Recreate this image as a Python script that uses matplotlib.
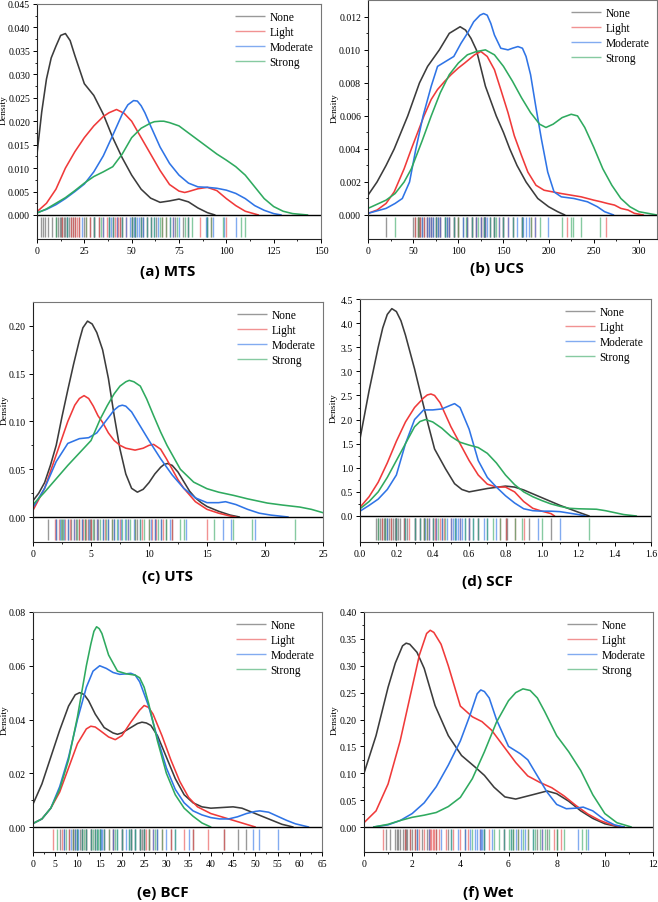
import numpy as np
import matplotlib
matplotlib.use("Agg")
import matplotlib.pyplot as plt
from matplotlib.ticker import AutoMinorLocator

classes = ["None", "Light", "Moderate", "Strong"]
line_colors = ["#3c3c3c", "#f03a3a", "#2f74e6", "#2faa5f"]
rug_colors = ["#555555", "#e84a4a", "#2f74e6", "#35a862"]

# ---------------- (a) MTS ----------------
mts_none_x = [0, 2.5, 5, 7.5, 10, 12.5, 15, 17.5, 20, 22.5, 25, 30, 35, 40, 45, 50, 55, 60, 65, 70, 75, 80, 85, 90, 94]
mts_none_y = [0.013, 0.022, 0.029, 0.0335, 0.036, 0.0383, 0.0387, 0.0372, 0.034, 0.031, 0.028, 0.0255, 0.0215, 0.0165, 0.0122, 0.0085, 0.0055, 0.0036, 0.0027, 0.0030, 0.0034, 0.0028, 0.0015, 0.0005, 0.0]
mts_light_x = [0, 5, 10, 15, 20, 25, 30, 35, 38, 42, 46, 50, 55, 60, 65, 70, 75, 78, 80, 85, 90, 95, 100, 105, 110, 117]
mts_light_y = [0.0007, 0.0025, 0.0055, 0.010, 0.0135, 0.0165, 0.019, 0.021, 0.0218, 0.0225, 0.0217, 0.020, 0.0165, 0.013, 0.0095, 0.0065, 0.0051, 0.0048, 0.005, 0.0056, 0.0059, 0.0052, 0.0035, 0.002, 0.0008, 0.0]
mts_mod_x = [0, 5, 10, 15, 20, 25, 30, 35, 40, 45, 48, 51, 53, 55, 57, 60, 65, 70, 75, 80, 85, 90, 95, 100, 105, 110, 115, 120, 125, 129]
mts_mod_y = [0.0005, 0.0012, 0.0022, 0.0035, 0.005, 0.0066, 0.0092, 0.0126, 0.017, 0.0215, 0.0235, 0.0244, 0.0243, 0.0233, 0.0218, 0.019, 0.0145, 0.011, 0.0085, 0.0068, 0.006, 0.0059, 0.0057, 0.0053, 0.0046, 0.0035, 0.002, 0.001, 0.0003, 0.0]
mts_str_x = [0, 5, 10, 15, 20, 25, 30, 35, 40, 45, 50, 55, 60, 62, 65, 67, 70, 75, 80, 85, 90, 95, 100, 105, 110, 115, 120, 125, 130, 135, 143]
mts_str_y = [0.0004, 0.0013, 0.0025, 0.0037, 0.0052, 0.0068, 0.0082, 0.0092, 0.0103, 0.013, 0.0165, 0.0185, 0.0196, 0.0199, 0.020, 0.020, 0.0197, 0.019, 0.0175, 0.016, 0.0145, 0.013, 0.0117, 0.0103, 0.0085, 0.006, 0.0035, 0.0018, 0.0008, 0.0003, 0.0]
mts_rug_none = [2, 3, 4, 6, 8, 10, 11, 12, 12.5, 13, 14, 15, 16, 17, 18, 19, 20, 22, 25, 28, 30, 33, 38, 44, 50, 56, 63, 73, 77, 90]
mts_rug_light = [13, 18, 19, 20, 21, 22, 26, 28, 30, 33, 35, 37, 40, 41, 42, 43, 44, 45, 47, 50, 52, 55, 58, 60, 66, 68, 72, 80, 86, 92, 100]
mts_rug_mod = [16, 24, 30, 35, 38, 39, 40, 42, 45, 47, 49, 50, 51, 52, 53, 54, 55, 56, 58, 60, 62, 64, 70, 72, 75, 80, 89, 90, 93, 99, 105]
mts_rug_str = [10, 16, 26, 30, 34, 38, 40, 45, 50, 52, 55, 58, 60, 62, 65, 66, 68, 70, 74, 78, 80, 82, 90, 92, 98, 108, 110]

# ---------------- (b) UCS ----------------
ucs_none_x = [0, 10, 20, 29, 44, 57, 66, 79, 90, 96, 102, 108, 114, 120, 130, 142, 150, 157, 165, 175, 188, 200, 210, 218]
ucs_none_y = [0.0012, 0.002, 0.003, 0.004, 0.006, 0.008, 0.009, 0.010, 0.011, 0.0112, 0.0114, 0.0112, 0.0107, 0.010, 0.0078, 0.006, 0.005, 0.004, 0.003, 0.002, 0.001, 0.0005, 0.0002, 0.0]
ucs_light_x = [0, 10, 20, 29, 40, 48, 55, 62, 70, 77, 85, 92, 100, 107, 118, 125, 132, 140, 147, 155, 162, 170, 177, 186, 195, 214, 236, 250, 258, 265, 273, 280, 288, 295, 305]
ucs_light_y = [0.0001, 0.0003, 0.0007, 0.0014, 0.0028, 0.004, 0.005, 0.006, 0.007, 0.0076, 0.0081, 0.0085, 0.0089, 0.0092, 0.0097, 0.0099, 0.0096, 0.0088, 0.0076, 0.0062, 0.0048, 0.0036, 0.0026, 0.0018, 0.0015, 0.0013, 0.0011, 0.0009, 0.0008, 0.0007, 0.0006, 0.0004, 0.0003, 0.0001, 0.0]
ucs_mod_x = [0, 20, 30, 38, 46, 53, 61, 70, 77, 86, 95, 103, 110, 117, 124, 128, 132, 136, 140, 147, 155, 160, 166, 171, 175, 180, 186, 192, 199, 206, 214, 228, 243, 254, 262, 272]
ucs_mod_y = [0.0001, 0.0004, 0.0007, 0.001, 0.002, 0.004, 0.006, 0.0078, 0.009, 0.0093, 0.0096, 0.0104, 0.011, 0.0117, 0.0121, 0.0122, 0.0121, 0.0116, 0.0109, 0.0101, 0.0100, 0.0101, 0.0102, 0.0101, 0.0096, 0.0085, 0.0065, 0.0046, 0.0026, 0.0014, 0.0011, 0.001, 0.0008, 0.0005, 0.0002, 0.0]
ucs_str_x = [0, 20, 30, 40, 48, 60, 70, 80, 90, 100, 110, 120, 130, 140, 150, 160, 170, 180, 190, 197, 205, 215, 225, 232, 240, 250, 260, 270, 280, 290, 300, 310, 320]
ucs_str_y = [0.0004, 0.0009, 0.0013, 0.002, 0.0028, 0.0045, 0.006, 0.0074, 0.0085, 0.0092, 0.0097, 0.0099, 0.0100, 0.0097, 0.009, 0.0081, 0.0071, 0.0062, 0.0055, 0.0053, 0.0055, 0.0059, 0.0061, 0.006, 0.0053, 0.0041, 0.0028, 0.0018, 0.001, 0.0005, 0.0002, 0.0001, 0.0]
ucs_rug_none = [20, 50, 52, 55, 57, 58, 60, 62, 65, 68, 70, 72, 75, 78, 80, 85, 88, 90, 95, 100, 105, 110, 115, 120, 125, 128, 130, 140, 150, 170]
ucs_rug_light = [52, 55, 58, 62, 65, 70, 75, 80, 90, 95, 100, 110, 115, 120, 125, 128, 130, 135, 140, 145, 150, 155, 160, 170, 180, 185, 220, 263]
ucs_rug_mod = [60, 65, 68, 70, 72, 75, 78, 80, 85, 88, 90, 95, 105, 110, 115, 120, 125, 128, 130, 132, 135, 140, 145, 150, 155, 160, 165, 170, 172, 175, 178, 185, 199]
ucs_rug_str = [30, 55, 75, 85, 95, 100, 108, 115, 122, 128, 135, 140, 142, 150, 160, 170, 180, 190, 215, 225, 227, 236, 257]

# ---------------- (c) UTS ----------------
uts_none_x = [0, 0.5, 1, 1.5, 2, 2.5, 3, 3.5, 4, 4.3, 4.7, 5.1, 5.5, 6, 6.5, 7, 7.5, 8, 8.5, 9, 9.5, 10, 10.5, 11, 11.3, 11.6, 12, 12.5, 13, 13.5, 14, 14.5, 15, 16, 17, 17.8]
uts_none_y = [0.017, 0.025, 0.036, 0.054, 0.075, 0.105, 0.133, 0.16, 0.185, 0.198, 0.205, 0.202, 0.193, 0.175, 0.145, 0.106, 0.071, 0.045, 0.030, 0.026, 0.029, 0.036, 0.045, 0.052, 0.055, 0.056, 0.054, 0.047, 0.037, 0.027, 0.020, 0.015, 0.011, 0.006, 0.002, 0.0]
uts_light_x = [0, 1, 2, 3, 3.6, 4.0, 4.4, 4.8, 5.2, 5.6, 6, 6.5, 7, 7.5, 8, 8.8, 9.5, 10, 10.4, 11, 11.5, 12, 12.5, 13, 14, 15, 16, 17, 17.5]
uts_light_y = [0.007, 0.03, 0.065, 0.10, 0.117, 0.124, 0.127, 0.124, 0.116, 0.106, 0.099, 0.088, 0.08, 0.075, 0.072, 0.070, 0.072, 0.075, 0.076, 0.071, 0.061, 0.05, 0.039, 0.03, 0.016, 0.008, 0.004, 0.001, 0.0]
uts_mod_x = [0, 1, 2, 3, 4, 4.8, 5.5, 6, 6.5, 7, 7.4, 7.7, 8.0, 8.5, 9, 10, 11, 12, 13, 14, 15, 16, 16.6, 17.5, 18.5, 19.5, 20.5, 22]
uts_mod_y = [0.01, 0.03, 0.058, 0.077, 0.082, 0.083, 0.088, 0.096, 0.104, 0.112, 0.116, 0.117, 0.116, 0.110, 0.100, 0.080, 0.061, 0.044, 0.030, 0.020, 0.015, 0.015, 0.016, 0.013, 0.008, 0.004, 0.002, 0.0]
uts_str_x = [0, 1, 2, 3, 4, 5, 5.8, 6.4, 7, 7.5, 8.0, 8.3, 8.7, 9.25, 9.8, 10.4, 11, 11.55, 12.7, 13.85, 15, 16, 17.3, 18.5, 20.2, 21.5, 23, 24, 25]
uts_str_y = [0.013, 0.026, 0.040, 0.054, 0.067, 0.08, 0.1026, 0.1165, 0.129, 0.137, 0.1415, 0.143, 0.1415, 0.137, 0.1235, 0.106, 0.089, 0.075, 0.05, 0.0365, 0.0296, 0.026, 0.0226, 0.019, 0.0146, 0.0125, 0.0104, 0.008, 0.0045]
uts_rug_none = [1.3, 2, 2.5, 3, 3.3, 3.7, 4, 4.2, 4.5, 4.7, 4.9, 5, 5.3, 5.6, 6, 6.5, 7, 9, 10.5, 11, 11.5, 12]
uts_rug_light = [1.9, 2.2, 2.8, 3.2, 3.5, 4, 4.3, 4.6, 5, 5.5, 6.2, 6.8, 7.5, 8.2, 8.8, 9.4, 10, 10.3, 10.6, 11.2, 12, 15]
uts_rug_mod = [2, 2.3, 2.7, 3, 3.5, 4.2, 4.8, 5.5, 6, 6.5, 7, 7.3, 7.6, 7.9, 8.2, 8.7, 9.2, 10.2, 10.5, 11, 11.8, 13.2, 16.4, 17.1, 19.1]
uts_rug_str = [2.4, 2.6, 3.8, 4.5, 5.2, 5.8, 6.3, 6.8, 7.2, 7.7, 8, 8.4, 8.8, 9.2, 9.6, 10, 10.8, 11.5, 12.7, 13, 15.6, 17.2, 18.9, 22.6]

# ---------------- (d) SCF ----------------
scf_none_x = [0, 0.05, 0.1, 0.125, 0.15, 0.175, 0.2, 0.225, 0.25, 0.3, 0.34, 0.376, 0.41, 0.47, 0.52, 0.56, 0.6, 0.7, 0.8, 0.85, 0.9, 1.0, 1.1, 1.2, 1.26]
scf_none_y = [1.6, 2.6, 3.5, 3.9, 4.18, 4.3, 4.24, 4.05, 3.75, 3.05, 2.43, 1.88, 1.39, 0.98, 0.67, 0.55, 0.5, 0.57, 0.62, 0.6, 0.54, 0.38, 0.22, 0.08, 0.0]
scf_light_x = [0, 0.05, 0.1, 0.15, 0.2, 0.25, 0.3, 0.35, 0.37, 0.39, 0.41, 0.44, 0.47, 0.5, 0.55, 0.6, 0.65, 0.7, 0.75, 0.8, 0.85, 0.9, 0.95, 1.0, 1.05, 1.07]
scf_light_y = [0.18, 0.4, 0.7, 1.1, 1.55, 1.95, 2.25, 2.45, 2.51, 2.53, 2.5, 2.35, 2.1, 1.85, 1.5, 1.15, 0.85, 0.66, 0.6, 0.6, 0.5, 0.3, 0.16, 0.1, 0.05, 0.0]
scf_mod_x = [0, 0.05, 0.1, 0.15, 0.2, 0.25, 0.3, 0.35, 0.4, 0.45, 0.5, 0.52, 0.55, 0.6, 0.65, 0.7, 0.75, 0.8, 0.85, 0.9, 0.95, 1.0, 1.05, 1.1, 1.15, 1.2, 1.24]
scf_mod_y = [0.1, 0.22, 0.35, 0.55, 0.85, 1.5, 2.0, 2.2, 2.2, 2.22, 2.3, 2.33, 2.25, 1.8, 1.15, 0.8, 0.6, 0.42, 0.27, 0.15, 0.11, 0.1, 0.1, 0.09, 0.06, 0.03, 0.0]
scf_str_x = [0, 0.05, 0.1, 0.15, 0.2, 0.25, 0.3, 0.33, 0.36, 0.4, 0.45, 0.5, 0.55, 0.6, 0.65, 0.7, 0.75, 0.8, 0.85, 0.9, 0.95, 1.0, 1.05, 1.1, 1.15, 1.2, 1.3, 1.35, 1.4, 1.45, 1.52]
scf_str_y = [0.15, 0.3, 0.5, 0.8, 1.15, 1.5, 1.85, 1.96, 2.0, 1.95, 1.82, 1.65, 1.53, 1.47, 1.42, 1.3, 1.1, 0.85, 0.65, 0.5, 0.4, 0.32, 0.25, 0.2, 0.16, 0.15, 0.14, 0.11, 0.07, 0.03, 0.0]
scf_rug_none = [0.09, 0.1, 0.11, 0.12, 0.13, 0.14, 0.15, 0.16, 0.17, 0.18, 0.19, 0.2, 0.21, 0.22, 0.24, 0.26, 0.3, 0.35, 0.45, 0.6, 0.8, 0.81, 0.93, 1.05]
scf_rug_light = [0.12, 0.17, 0.2, 0.24, 0.27, 0.3, 0.33, 0.35, 0.37, 0.38, 0.4, 0.41, 0.42, 0.44, 0.46, 0.5, 0.55, 0.6, 0.65, 0.77, 0.8, 0.85, 0.9]
scf_rug_mod = [0.15, 0.2, 0.25, 0.3, 0.33, 0.36, 0.38, 0.4, 0.42, 0.45, 0.48, 0.5, 0.51, 0.52, 0.53, 0.54, 0.55, 0.56, 0.58, 0.6, 0.62, 0.65, 0.68, 0.7, 0.75, 0.98, 1.1]
scf_rug_str = [0.1, 0.14, 0.2, 0.25, 0.3, 0.33, 0.35, 0.37, 0.4, 0.43, 0.47, 0.52, 0.58, 0.62, 0.65, 0.7, 0.73, 0.77, 0.85, 0.89, 1.0, 1.26]

# ---------------- (e) BCF ----------------
bcf_none_x = [0, 2, 4, 6, 8, 9.5, 10.5, 11.5, 12.5, 14, 16, 18, 19, 20, 22, 23.5, 24.5, 25.5, 26.5, 28, 30, 32, 34, 36, 38, 40, 42, 45, 47, 50, 53, 56, 58.5]
bcf_none_y = [0.0085, 0.016, 0.026, 0.036, 0.045, 0.0492, 0.050, 0.0493, 0.047, 0.042, 0.037, 0.035, 0.0345, 0.035, 0.037, 0.0385, 0.039, 0.0387, 0.0378, 0.034, 0.026, 0.018, 0.012, 0.009, 0.0075, 0.007, 0.0072, 0.0075, 0.007, 0.005, 0.003, 0.001, 0.0]
bcf_light_x = [0, 2, 4, 6, 8, 10, 12, 13, 14, 15, 17, 18.5, 20, 22, 24, 25, 26, 27, 29, 31, 33, 35, 37, 40, 43, 46, 48, 50]
bcf_light_y = [0.0013, 0.003, 0.007, 0.013, 0.022, 0.031, 0.0365, 0.0375, 0.0372, 0.036, 0.0335, 0.0325, 0.034, 0.039, 0.0435, 0.0452, 0.0445, 0.042, 0.034, 0.025, 0.017, 0.011, 0.0075, 0.005, 0.0035, 0.002, 0.001, 0.0]
bcf_mod_x = [0, 2, 4, 6, 8, 10, 12, 13.5, 15, 16.5, 18, 19.5, 21, 22, 23, 24, 26, 28, 30, 32, 34, 36, 38, 40, 42, 44, 46, 48, 50, 51, 53, 55, 57, 59, 62]
bcf_mod_y = [0.0013, 0.003, 0.007, 0.015, 0.026, 0.040, 0.052, 0.058, 0.060, 0.059, 0.0575, 0.0568, 0.057, 0.0572, 0.0565, 0.054, 0.045, 0.033, 0.022, 0.014, 0.009, 0.006, 0.0045, 0.0035, 0.003, 0.003, 0.0038, 0.005, 0.0058, 0.006, 0.0055, 0.004, 0.0025, 0.0012, 0.0]
bcf_str_x = [0, 2, 4, 6, 8, 10, 12, 13, 13.7, 14.3, 14.9, 15.5, 17, 19, 21, 23, 24, 25, 26, 28, 30, 32, 34, 36, 38, 40]
bcf_str_y = [0.0013, 0.003, 0.007, 0.014, 0.025, 0.041, 0.060, 0.068, 0.0728, 0.0745, 0.0738, 0.072, 0.064, 0.058, 0.057, 0.0565, 0.0555, 0.052, 0.046, 0.032, 0.020, 0.012, 0.007, 0.004, 0.0015, 0.0]
bcf_rug_none = [6, 7, 8, 9, 9.5, 10, 10.5, 11, 12, 13, 15, 18, 20, 22, 23, 24, 24.5, 25, 26, 28, 31, 36, 43, 46, 48]
bcf_rug_light = [4.4, 6.5, 8, 9, 11, 12, 13, 14, 16, 17, 18, 20, 22, 24, 25, 25.5, 26, 27, 29, 31, 34, 36, 39.4, 43]
bcf_rug_mod = [7, 8.5, 9.5, 10, 10.2, 11, 12, 13, 14, 14.5, 15, 15.2, 15.5, 16, 18, 19, 20, 21, 21.5, 22, 23, 24, 25, 27, 28, 30, 32, 35, 49.4, 50.8, 55.1]
bcf_rug_str = [5.4, 7.5, 9, 10, 11, 11.5, 12, 13, 13.5, 14, 14.3, 14.7, 15, 16, 17, 18.5, 19, 20, 21.5, 22, 23, 24, 25, 26, 27.5, 29, 32]

# ---------------- (f) Wet ----------------
wet_none_x = [0, 0.5, 1.0, 1.3, 1.6, 1.75, 1.9, 2.2, 2.5, 2.95, 3.5, 4.05, 4.6, 5.0, 5.4, 5.85, 6.3, 7.0, 7.6, 8.0, 8.5, 9.0, 9.5, 10.0, 10.5, 10.8]
wet_none_y = [0.10, 0.17, 0.26, 0.305, 0.337, 0.342, 0.34, 0.325, 0.295, 0.226, 0.17, 0.133, 0.112, 0.096, 0.074, 0.056, 0.052, 0.06, 0.067, 0.062, 0.048, 0.03, 0.016, 0.006, 0.001, 0.0]
wet_light_x = [0, 0.5, 1.0, 1.5, 2.0, 2.3, 2.6, 2.75, 2.9, 3.2, 3.5, 4.0, 4.5, 4.9, 5.3, 5.8, 6.3, 6.8, 7.3, 7.8, 8.3, 8.8, 9.3, 9.8, 10.3, 10.7]
wet_light_y = [0.008, 0.03, 0.08, 0.16, 0.26, 0.32, 0.36, 0.366, 0.362, 0.34, 0.30, 0.225, 0.205, 0.196, 0.18, 0.15, 0.12, 0.095, 0.083, 0.073, 0.058, 0.04, 0.024, 0.012, 0.004, 0.0]
wet_mod_x = [0.4, 1.0, 1.5, 2.0, 2.5, 3.0, 3.5, 4.0, 4.4, 4.7, 4.85, 5.0, 5.2, 5.5, 6.0, 6.5, 6.8, 7.2, 7.6, 8.0, 8.4, 8.8, 9.1, 9.5, 10.0, 10.4, 10.8]
wet_mod_y = [0.0, 0.004, 0.012, 0.025, 0.045, 0.075, 0.115, 0.16, 0.208, 0.248, 0.255, 0.252, 0.24, 0.20, 0.15, 0.136, 0.125, 0.095, 0.065, 0.042, 0.034, 0.035, 0.037, 0.03, 0.013, 0.004, 0.0]
wet_str_x = [0.4, 1.0, 1.5, 2.0, 2.5, 3.0, 3.5, 4.0, 4.5, 5.0, 5.5, 6.0, 6.3, 6.6, 6.9, 7.2, 7.5, 8.0, 8.5, 9.0, 9.5, 10.0, 10.5, 11.1]
wet_str_y = [0.0, 0.005, 0.012, 0.018, 0.022, 0.027, 0.038, 0.055, 0.09, 0.14, 0.195, 0.235, 0.25, 0.257, 0.254, 0.24, 0.215, 0.17, 0.14, 0.105, 0.06, 0.025, 0.008, 0.0]
wet_rug_none = [0.9, 1.1, 1.3, 1.35, 1.4, 1.5, 1.6, 1.7, 1.75, 1.8, 1.9, 2, 2.1, 2.2, 2.4, 2.6, 3, 3.5, 4.2, 5, 6.2, 7.2, 7.6, 8]
wet_rug_light = [0.8, 1.7, 1.9, 2.1, 2.3, 2.5, 2.7, 2.75, 2.8, 2.85, 2.9, 3, 3.1, 3.4, 3.7, 4, 4.3, 4.8, 5.2, 5.8, 6.4, 6.8, 7.4, 7.9, 8.2]
wet_rug_mod = [2.2, 2.7, 3.2, 3.6, 3.9, 4.2, 4.4, 4.6, 4.7, 4.8, 4.85, 4.9, 5, 5.3, 5.8, 6.1, 6.3, 6.5, 6.7, 7, 7.4, 8.9, 9.3]
wet_rug_str = [3.6, 4.5, 5, 5.4, 5.6, 5.8, 6, 6.1, 6.2, 6.4, 6.6, 6.8, 7, 7.1, 7.3, 7.5, 7.7, 8, 8.3, 9.05, 9.2]

W, H = 658, 903
fig = plt.figure(figsize=(W / 100, H / 100), dpi=100)
serif = ["Liberation Serif", "DejaVu Serif"]

panels = [
    dict(title="(a) MTS", box=(37, 321, 5, 216, 240), xlim=(0, 150), xt=np.arange(0, 151, 25), ytop=0.045,
         yt=np.arange(0, 0.0451, 0.005), yfmt="{:.3f}", tpos=(168, 272), ylab=4,
         curves=[(mts_none_x, mts_none_y), (mts_light_x, mts_light_y), (mts_mod_x, mts_mod_y), (mts_str_x, mts_str_y)],
         rugs=[mts_rug_none, mts_rug_light, mts_rug_mod, mts_rug_str]),
    dict(title="(b) UCS", box=(368, 657, 1, 216, 240), xlim=(0, 320), xt=np.arange(0, 301, 50), ytop=0.01302,
         yt=np.arange(0, 0.0121, 0.002), yfmt="{:.3f}", tpos=(497, 269), ylab=335,
         curves=[(ucs_none_x, ucs_none_y), (ucs_light_x, ucs_light_y), (ucs_mod_x, ucs_mod_y), (ucs_str_x, ucs_str_y)],
         rugs=[ucs_rug_none, ucs_rug_light, ucs_rug_mod, ucs_rug_str]),
    dict(title="(c) UTS", box=(33, 323, 303, 518, 543), xlim=(0, 25), xt=np.arange(0, 26, 5), ytop=0.225,
         yt=np.arange(0, 0.201, 0.05), yfmt="{:.2f}", tpos=(167, 577), ylab=4.5,
         curves=[(uts_none_x, uts_none_y), (uts_light_x, uts_light_y), (uts_mod_x, uts_mod_y), (uts_str_x, uts_str_y)],
         rugs=[uts_rug_none, uts_rug_light, uts_rug_mod, uts_rug_str]),
    dict(title="(d) SCF", box=(360, 651, 300, 517, 543), xlim=(0, 1.6), xt=np.arange(0, 1.61, 0.2), ytop=4.5,
         yt=np.arange(0, 4.51, 0.5), yfmt="{:.1f}", tpos=(487, 582), ylab=334,
         curves=[(scf_none_x, scf_none_y), (scf_light_x, scf_light_y), (scf_mod_x, scf_mod_y), (scf_str_x, scf_str_y)],
         rugs=[scf_rug_none, scf_rug_light, scf_rug_mod, scf_rug_str]),
    dict(title="(e) BCF", box=(33, 322, 613, 828, 853), xlim=(0, 65), xt=np.arange(0, 66, 5), ytop=0.08,
         yt=np.arange(0, 0.0801, 0.02), yfmt="{:.2f}", tpos=(163, 893), ylab=4.5,
         curves=[(bcf_none_x, bcf_none_y), (bcf_light_x, bcf_light_y), (bcf_mod_x, bcf_mod_y), (bcf_str_x, bcf_str_y)],
         rugs=[bcf_rug_none, bcf_rug_light, bcf_rug_mod, bcf_rug_str]),
    dict(title="(f) Wet", box=(364, 653, 613, 828, 853), xlim=(0, 12), xt=np.arange(0, 13, 2), ytop=0.40,
         yt=np.arange(0, 0.401, 0.05), yfmt="{:.2f}", tpos=(488, 893), ylab=335,
         curves=[(wet_none_x, wet_none_y), (wet_light_x, wet_light_y), (wet_mod_x, wet_mod_y), (wet_str_x, wet_str_y)],
         rugs=[wet_rug_none, wet_rug_light, wet_rug_mod, wet_rug_str]),
]

for p in panels:
    l, r, t, z, b = p["box"]
    ax = fig.add_axes([l / W, 1 - b / H, (r - l) / W, (b - t) / H])
    ytop = p["ytop"]
    ybot = -(b - z) / (z - t) * ytop
    ax.set_xlim(*p["xlim"])
    ax.set_ylim(ybot, ytop)
    zero_frac = (b - z) / (b - t)
    for rv, col in zip(p["rugs"], rug_colors):
        ax.vlines(rv, 0.01, zero_frac - 0.01, transform=ax.get_xaxis_transform(),
                  colors=col, alpha=0.6, lw=1.0)
    for (cx, cy), col in zip(p["curves"], line_colors):
        ax.plot(cx, cy, color=col, lw=1.15, solid_joinstyle="round", solid_capstyle="round")
    ax.axhline(0, color="black", lw=1.0)
    ax.set_xticks(p["xt"])
    xr = p["xlim"][1]
    ax.set_xticklabels([("{:.1f}".format(v) if xr < 2 else "{:g}".format(v)) for v in p["xt"]])
    ax.set_yticks(p["yt"])
    ax.set_yticklabels([p["yfmt"].format(v) for v in p["yt"]])
    ax.xaxis.set_minor_locator(AutoMinorLocator(2))
    yminor = (p["yt"][:-1] + p["yt"][1:]) / 2
    ax.set_yticks(yminor, minor=True)
    ax.tick_params(which="major", direction="out", length=3, width=0.7, labelsize=7, pad=2)
    ax.tick_params(which="minor", direction="out", length=1.6, width=0.6)
    for lab in ax.get_xticklabels() + ax.get_yticklabels():
        lab.set_fontfamily(serif)
    for side, sp in ax.spines.items():
        sp.set_linewidth(0.8)
        sp.set_color("#222222" if side in ("left", "bottom") else "#777777")
    fig.text(p["ylab"] / W, 1 - ((z + t) / 2) / H, "Density", rotation=90, ha="center", va="center",
             fontsize=6.8, family=serif)
    ax.legend(classes, loc="upper right", frameon=False, prop={"family": serif, "size": 8.3},
              handlelength=2.6, handletextpad=0.4, labelspacing=0.25, borderaxespad=0.25)
    fig.text(p["tpos"][0] / W, 1 - p["tpos"][1] / H, p["title"], ha="center", va="center",
             fontsize=11, fontweight="bold", family=["Open Sans", "DejaVu Sans"])

fig.savefig("out.png", dpi=100, facecolor="white")
